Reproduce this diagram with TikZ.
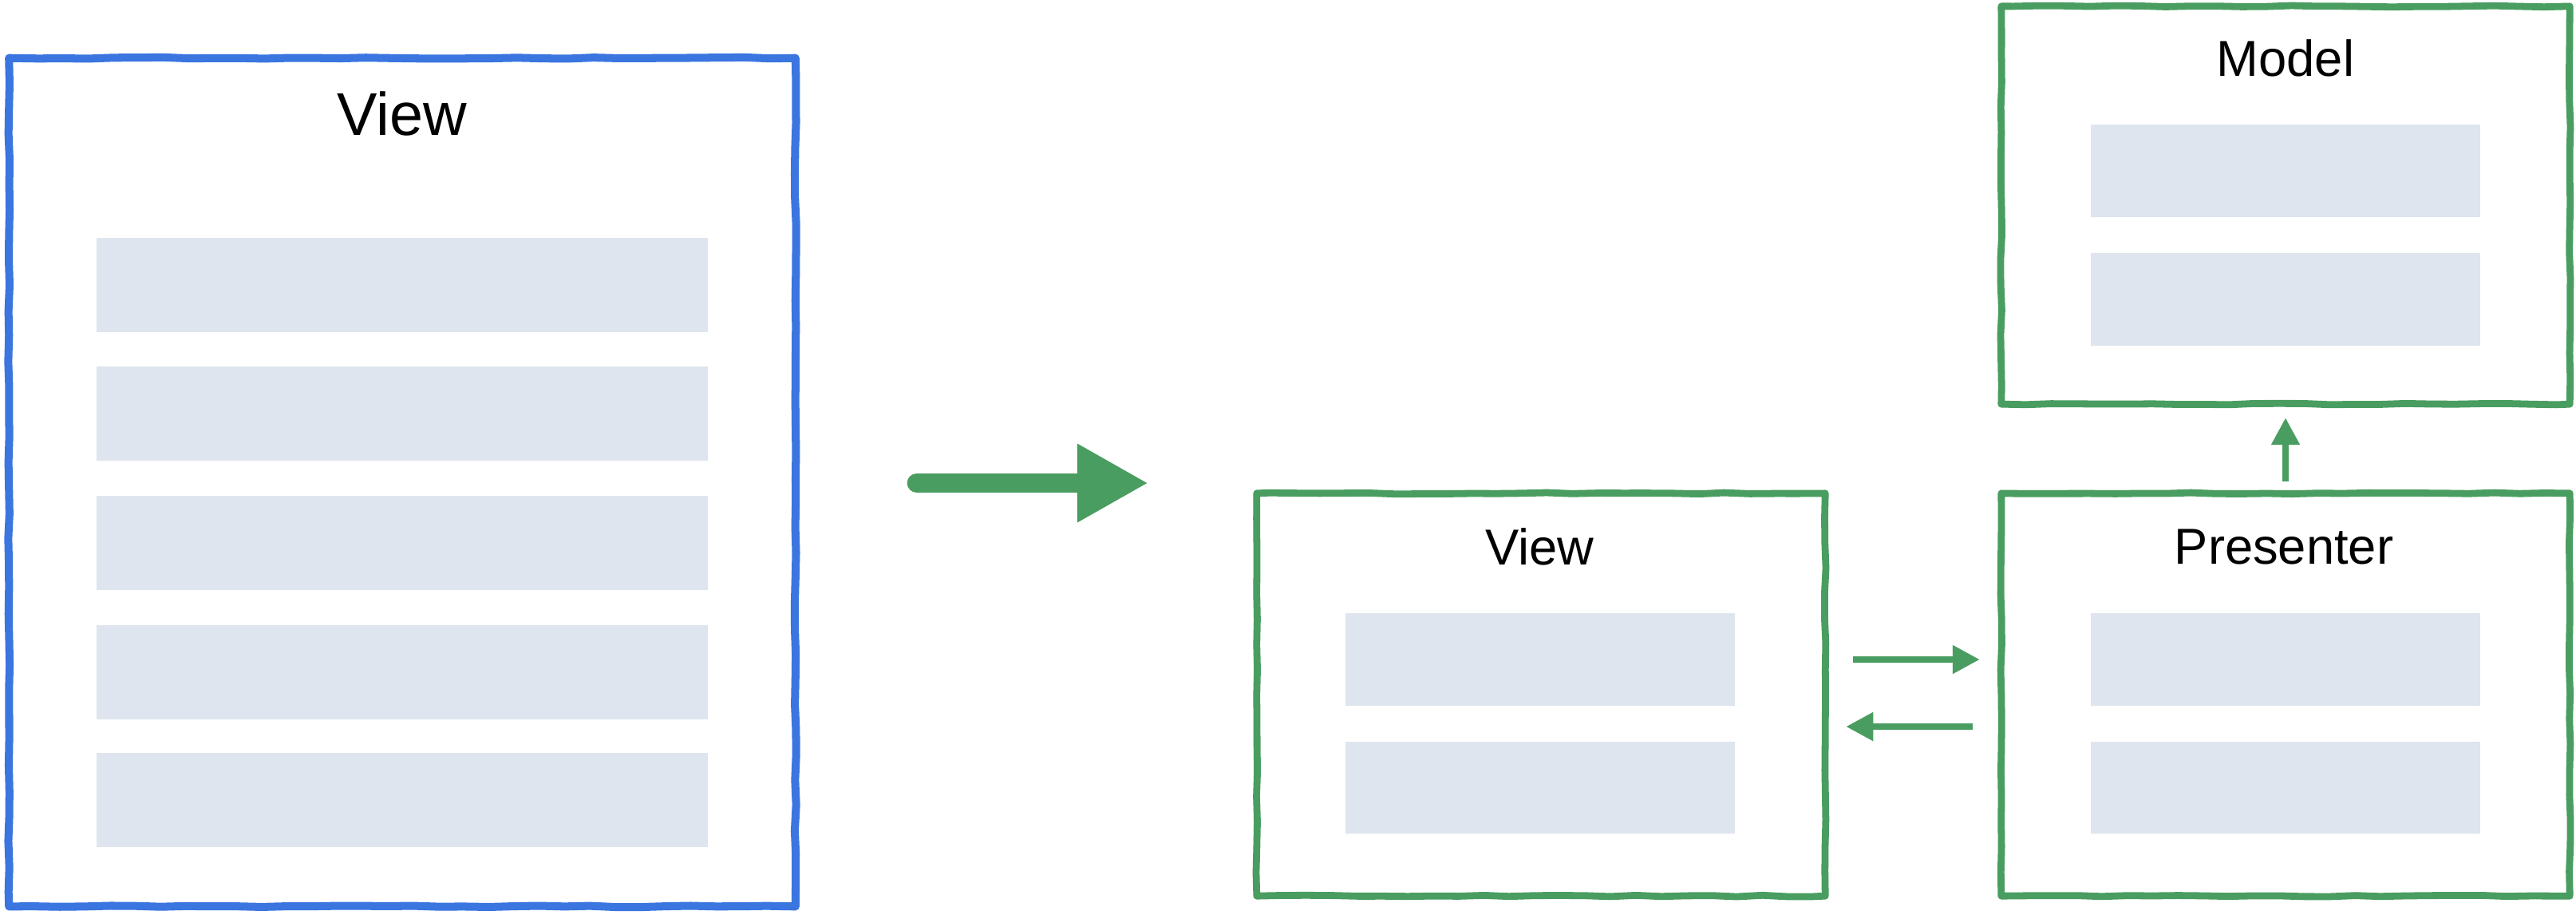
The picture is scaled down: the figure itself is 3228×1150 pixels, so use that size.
\documentclass[tikz,border=0pt]{standalone}
\usepackage{fontspec}
\setmainfont{Liberation Sans}
\usepackage{tikz}
\usetikzlibrary{arrows.meta, positioning, decorations.pathmorphing}
\usepackage{xcolor}

\definecolor{mvpgreen}{RGB}{73,157,96}
\definecolor{oldblue}{RGB}{58,117,224}
\definecolor{barfill}{RGB}{222,229,238}

\begin{document}
\pgfmathsetseed{7}
\begin{tikzpicture}[
  x=0.01cm, y=-0.01cm,
  rough/.style={decorate, decoration={random steps, segment length=9pt, amplitude=0.25pt}},
  box/.style={draw=mvpgreen, line width=2.5pt, outer sep=0pt, minimum width=7.12cm, line cap=round, line join=round, rough},
  oldbox/.style={draw=oldblue, line width=2.85pt, outer sep=0pt, line cap=round, line join=round, rough},
  bar/.style={fill=barfill, inner sep=0pt, minimum width=4.88cm, minimum height=1.15cm},
  widebar/.style={bar, minimum width=7.66cm, minimum height=1.17cm},
  title/.style={font=\fontsize{18}{20}\selectfont, anchor=base},
  flow/.style={draw=mvpgreen, line width=2.3pt, -{Triangle[length=0.34cm, width=0.34cm]}},
  bigflow/.style={draw=mvpgreen, line width=7pt, line cap=round, -{Triangle[length=0.89cm, width=0.92cm]}}
]
\useasboundingbox (0,0) rectangle (3228,1150);

% before: one big view
\node[oldbox, minimum width=9.85cm, minimum height=10.62cm] (oldview) at (504,604) {};
\node[title, font=\fontsize{21.5}{24}\selectfont] (oldviewtitle) at (504,169) {View};
\foreach \y [count=\i] in {357,518,680,842,1002}
  \node[widebar] (oldbar\i) at (504,\y) {};

% the big arrow
\coordinate (bigstart) at (1149,605);
\coordinate (bigend) at (1439,605);
\draw[bigflow] (bigstart) -- (bigend);

% after: model, view, presenter
\node[box, minimum height=5.04cm] (vbox) at (1931,870) {};
\node[box, minimum height=5.04cm] (pbox) at (2864,870) {};
\node[box, minimum height=4.98cm] (mbox) at (2864,257) {};

\node[title] (vtitle) at (1929,707) {View};
\node[title] (ptitle) at (2862,706) {Presenter};
\node[title] (mtitle) at (2864,95) {Model};

\node[bar] (vbar1) at (1930,826) {};
\node[bar] (vbar2) at (1930,986) {};
\node[bar] (pbar1) at (2864,826) {};
\node[bar] (pbar2) at (2864,986) {};
\node[bar] (mbar1) at (2864,214) {};
\node[bar] (mbar2) at (2864,375) {};

\draw[flow] ([xshift=0.35cm, yshift=0.44cm]vbox.east) -- ([xshift=-0.27cm, yshift=0.44cm]pbox.west);
\draw[flow] ([xshift=-0.36cm, yshift=-0.4cm]pbox.west) -- ([xshift=0.26cm, yshift=-0.4cm]vbox.east);
\draw[flow] ([yshift=0.15cm]pbox.north) -- ([yshift=-0.17cm]mbox.south);
\end{tikzpicture}
\end{document}
